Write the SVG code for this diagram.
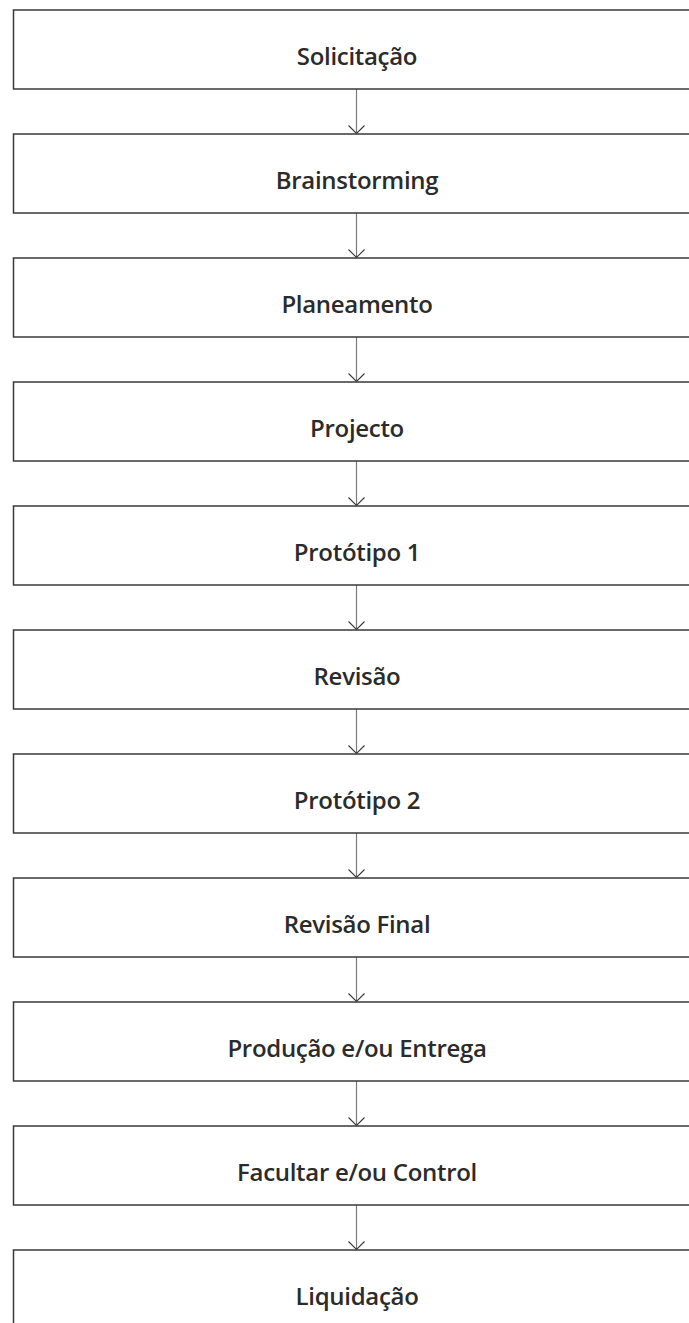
<svg xmlns="http://www.w3.org/2000/svg" width="689" height="1323" viewBox="0 0 689 1323">
<style>
.box{fill:#fff;stroke:#3a3a3a;stroke-width:1.5}
.lbl{font-family:"Open Sans","Liberation Sans",sans-serif;font-weight:600;font-size:24px;letter-spacing:-0.3px;fill:#2b2b2b;text-anchor:middle}
.con{stroke:#7a7a7a;stroke-width:1.2;fill:none}
</style>
<defs>
<marker id="arr" markerWidth="18" markerHeight="18" refX="9" refY="9" orient="auto" markerUnits="userSpaceOnUse">
<path d="M1,1 L9,9 L1,17" fill="none" stroke="#3a3a3a" stroke-width="1.1"/>
</marker>
</defs>
<rect width="689" height="1323" fill="#fff"/>
<g id="connectors">
<line class="con" x1="356.5" y1="89" x2="356.5" y2="133.5" marker-end="url(#arr)"/>
<line class="con" x1="356.5" y1="213" x2="356.5" y2="257.5" marker-end="url(#arr)"/>
<line class="con" x1="356.5" y1="337" x2="356.5" y2="381.5" marker-end="url(#arr)"/>
<line class="con" x1="356.5" y1="461" x2="356.5" y2="505.5" marker-end="url(#arr)"/>
<line class="con" x1="356.5" y1="585" x2="356.5" y2="629.5" marker-end="url(#arr)"/>
<line class="con" x1="356.5" y1="709" x2="356.5" y2="753.5" marker-end="url(#arr)"/>
<line class="con" x1="356.5" y1="833" x2="356.5" y2="877.5" marker-end="url(#arr)"/>
<line class="con" x1="356.5" y1="957" x2="356.5" y2="1001.5" marker-end="url(#arr)"/>
<line class="con" x1="356.5" y1="1081" x2="356.5" y2="1125.5" marker-end="url(#arr)"/>
<line class="con" x1="356.5" y1="1205" x2="356.5" y2="1249.5" marker-end="url(#arr)"/>
</g>
<g id="n1"><rect class="box" x="13.5" y="10" width="690" height="79"/><text class="lbl" x="357" y="65">Solicitação</text></g>
<g id="n2"><rect class="box" x="13.5" y="134" width="690" height="79"/><text class="lbl" x="357" y="189">Brainstorming</text></g>
<g id="n3"><rect class="box" x="13.5" y="258" width="690" height="79"/><text class="lbl" x="357" y="313">Planeamento</text></g>
<g id="n4"><rect class="box" x="13.5" y="382" width="690" height="79"/><text class="lbl" x="357" y="437">Projecto</text></g>
<g id="n5"><rect class="box" x="13.5" y="506" width="690" height="79"/><text class="lbl" x="357" y="561">Protótipo 1</text></g>
<g id="n6"><rect class="box" x="13.5" y="630" width="690" height="79"/><text class="lbl" x="357" y="685">Revisão</text></g>
<g id="n7"><rect class="box" x="13.5" y="754" width="690" height="79"/><text class="lbl" x="357" y="809">Protótipo 2</text></g>
<g id="n8"><rect class="box" x="13.5" y="878" width="690" height="79"/><text class="lbl" x="357" y="933">Revisão Final</text></g>
<g id="n9"><rect class="box" x="13.5" y="1002" width="690" height="79"/><text class="lbl" x="357" y="1057">Produção e/ou Entrega</text></g>
<g id="n10"><rect class="box" x="13.5" y="1126" width="690" height="79"/><text class="lbl" x="357" y="1181">Facultar e/ou Control</text></g>
<g id="n11"><rect class="box" x="13.5" y="1250" width="690" height="79"/><text class="lbl" x="357" y="1305">Liquidação</text></g>
</svg>
